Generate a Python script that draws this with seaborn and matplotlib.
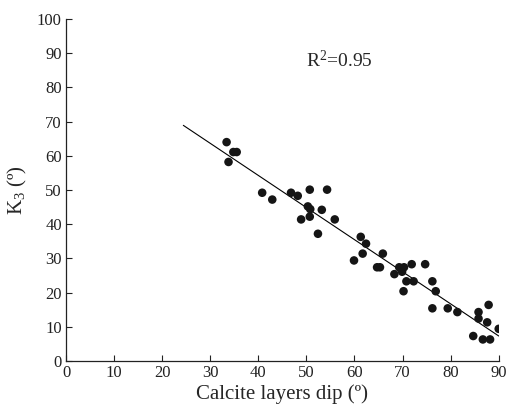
import numpy as np
import pandas as pd
import matplotlib
matplotlib.use('Agg')
import matplotlib.pyplot as plt
import seaborn as sns

# values
dip = [33.4, 34.8, 35.5, 33.8, 40.8, 42.9, 46.8, 48.2, 50.7, 54.3,
       50.3, 50.8, 53.2, 48.9, 50.7, 55.9, 52.4,
       61.3, 62.4, 61.7, 59.9, 65.9, 64.7, 65.3, 69.3, 70.3, 69.9,
       68.3, 71.9, 74.7, 70.8, 72.3, 70.2, 76.2, 76.9, 76.2, 79.4,
       81.4, 85.8, 85.8, 87.9, 87.6, 90.0, 84.7, 86.7, 88.2]
k3 = [64.0, 61.1, 61.1, 58.2, 49.2, 47.2, 49.2, 48.3, 50.1, 50.1,
      45.2, 44.4, 44.2, 41.4, 42.2, 41.4, 37.2,
      36.3, 34.3, 31.4, 29.4, 31.4, 27.4, 27.4, 27.4, 27.4, 26.1,
      25.4, 28.3, 28.3, 23.3, 23.3, 20.4, 23.3, 20.4, 15.4, 15.4,
      14.3, 14.3, 12.4, 16.4, 11.3, 9.4, 7.3, 6.3, 6.3]
fit_range = [24.4, 90.0]
r2_label = 'R$^2$=0.95'

df = pd.DataFrame({'dip': dip, 'k3': k3})

sns.set_theme(style='ticks')
plt.rcParams['font.family'] = ['Liberation Serif', 'DejaVu Serif']
plt.rcParams['mathtext.fontset'] = 'custom'
plt.rcParams['mathtext.rm'] = 'Liberation Serif'
plt.rcParams['mathtext.it'] = 'Liberation Serif'

fig = plt.figure(figsize=(5.09, 4.18), dpi=100)
ax = fig.add_axes([0.1297, 0.1364, 0.9798 - 0.1297, 0.9545 - 0.1364])

sns.scatterplot(data=df, x='dip', y='k3', ax=ax, color='#151515',
                s=38, edgecolor='none', legend=False, zorder=3)

# least squares line over the drawn range
slope, icpt = np.polyfit(df['dip'], df['k3'], 1)
xs = np.array(fit_range)
ax.plot(xs, icpt + slope * xs, color='black', lw=0.8, zorder=2)

ax.text(50.0, 88, r2_label, fontsize=14, va='center', ha='left')

ax.set_xlim(0, 90)
ax.set_ylim(0, 100)
ax.set_xticks(range(0, 91, 10))
ax.set_yticks(range(0, 101, 10))
ax.tick_params(direction='in', length=4, width=0.8, labelsize=12, pad=3, colors='#222222')
ax.set_xlabel('Calcite layers dip (º)', fontsize=15, labelpad=2)
ax.set_ylabel('K$_3$ (º)', fontsize=15, labelpad=6)
sns.despine(ax=ax)
for s in ['left', 'bottom']:
    ax.spines[s].set_linewidth(0.9)
    ax.spines[s].set_color('#222222')

fig.savefig('out.png', dpi=100)
